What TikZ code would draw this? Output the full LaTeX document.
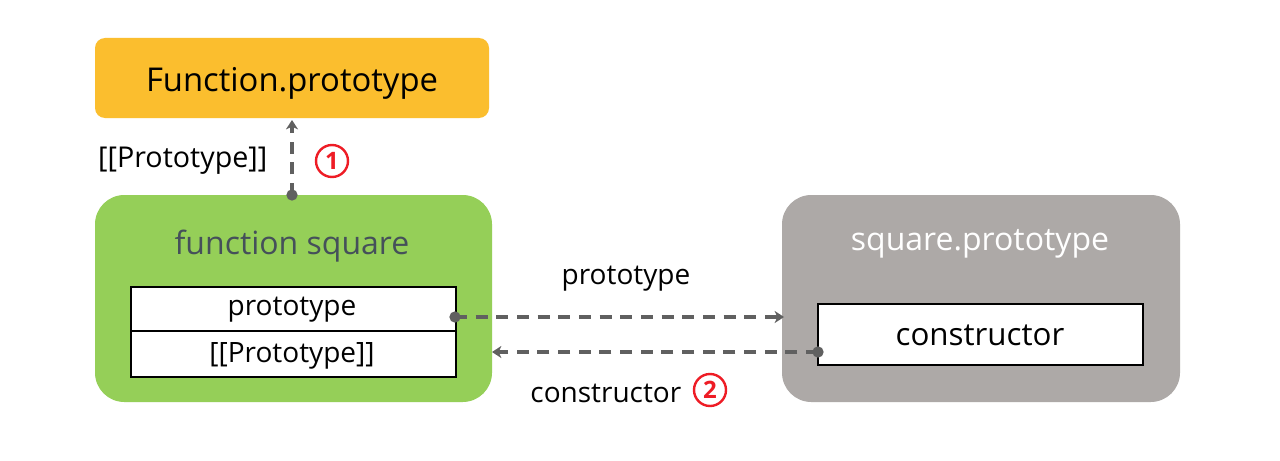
\documentclass[tikz,border=0pt]{standalone}
\usepackage{fontspec}
\setmainfont{Open Sans}
\usetikzlibrary{arrows.meta}
\definecolor{orangebox}{HTML}{FBBE2E}
\definecolor{greenbox}{HTML}{95CF58}
\definecolor{graybox}{HTML}{ADA9A7}
\definecolor{titlegray}{HTML}{45505A}
\definecolor{linegray}{HTML}{606060}
\definecolor{numred}{HTML}{EE1C25}
\tikzset{
  cell/.style={draw=black, line width=1.5pt, fill=white},
  conn/.style={draw=linegray, line width=3pt, dash pattern=on 9pt off 6.5pt, -{Stealth[length=7pt,width=9pt,inset=2pt]}},
  dotnode/.style={circle, fill=linegray, inner sep=0pt, minimum size=8.5pt},
  numc/.style={circle, draw=numred, line width=1.8pt, text=numred, inner sep=0pt, minimum size=24pt, font=\fontsize{18}{18}\selectfont\bfseries},
  big/.style={font=\fontsize{24}{26}\selectfont},
  lbl/.style={font=\fontsize{21.5}{24}\selectfont, text=black}
}
\begin{document}
\begin{tikzpicture}[x=0.75pt,y=-0.75pt]
\useasboundingbox[fill=white] (0,0) rectangle (1280,460);
% panels
\fill[orangebox, rounded corners=7.5pt] (95,38) rectangle (489,118);
\node[big, font=\fontsize{24.6}{26}\selectfont] (fp) at (292,83) {Function.prototype};
\coordinate (fpb) at (292,120);
\fill[greenbox, rounded corners=22pt] (95,195) rectangle (492,402);
\node[big, text=titlegray] (fs) at (292,246) {function square};
\fill[graybox, rounded corners=22pt] (782,195) rectangle (1180,402);
\node[big, text=white] (sp) at (980,244) {square.prototype};
% table cells
\draw[cell] (131,287) rectangle (456,331);
\draw[cell] (131,331) rectangle (456,377);
\node[lbl, font=\fontsize{21}{24}\selectfont] (cp) at (292,310) {prototype};
\node[lbl, font=\fontsize{21}{24}\selectfont] (cpp) at (292,356) {[[Prototype]]};
\draw[cell] (818,304) rectangle (1143,365);
\node[big, font=\fontsize{23.5}{26}\selectfont] (cc) at (980,335) {constructor};
% connectors
\node[dotnode] (d1) at (292,195) {};
\draw[conn] (d1.center) -- (fpb);
\node[lbl, anchor=east] (l1) at (272,161) {[[Prototype]]};
\node[numc] (n1) at (332,161) {1};
\node[dotnode] (d2) at (455,317) {};
\coordinate (t2) at (784,317);
\draw[conn] (d2.center) -- (t2);
\node[lbl, font=\fontsize{21}{24}\selectfont] (l2) at (626,279) {prototype};
\node[dotnode] (d3) at (818,352) {};
\coordinate (t3) at (492,352);
\draw[conn] (d3.center) -- (t3);
\node[lbl, font=\fontsize{21}{24}\selectfont, anchor=east] (l3) at (686,393) {constructor};
\node[numc] (n2) at (710,390) {2};
\end{tikzpicture}
\end{document}
